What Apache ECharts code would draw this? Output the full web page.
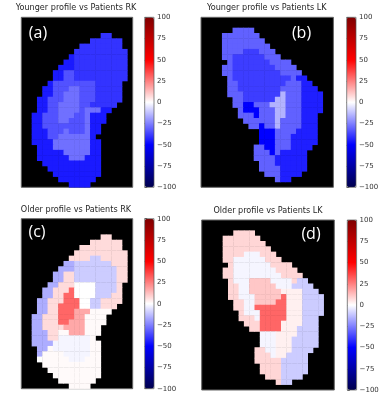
<!DOCTYPE html>
<html><head><meta charset="utf-8">
<style>html,body{margin:0;padding:0;background:#fff}#c{width:386px;height:400px}</style>
<script src="https://cdn.jsdelivr.net/npm/echarts@6/dist/echarts.min.js"></script>
</head><body><div id="c"></div>
<script>
var titles = ['Younger profile vs Patients RK','Younger profile vs Patients LK','Older profile vs Patients RK','Older profile vs Patients LK'];
var tags = ['(a)','(b)','(c)','(d)'];
var ticks = [-100,-75,-50,-25,0,25,50,75,100];
var levelsA = {A:-45,B:-40,C:-34,D:-28};
var levelsB = {A:-44,S:-50,M:-38,L:-31,W:-15};
var levelsC = {P:7,U:-16,V:-10,R:30,Q:17,N:1,Z:-2,O:0};
var levelsD = {P:8,Z:-2,V:-10,R:30,T:11,N:3};
// each row: runs "first-last Level"
var rowsA = ['','','','15-16B','13-18B','11-18B','10-19B','9-9A 10-19B','8-9A 10-19B','7-9A 10-19B','6-7A 8-9C 10-19B','6-7A 8-9C 10-19B',
'5-5A 6-13C 14-18B','4-5A 6-8C 9-10D 11-13C 14-18B','4-5A 6-7C 8-10D 11-13C 14-18B','3-4A 5-7C 8-10D 11-13C 14-18B','3-4A 5-6C 7-10D 11-12C 13-17B',
'3-4A 5-6C 7-10D 11-11C 12-14D 15-16A','2-3A 4-6C 7-9D 10-11C 12-12D 13-15A','2-3A 4-6C 7-8D 9-11C 12-12D 13-15A','2-3A 4-11C 12-12D 13-14A','2-4A 5-7C 8-8D 9-11C 12-12D 13-14A',
'2-4A 5-6C 7-12D 13-13A','2-5A 6-12D 13-14A','3-5A 6-12D 13-14A','3-7A 8-12D 13-14A','3-8A 9-11D 12-14A','4-14A','5-14A','6-14A','7-13A','9-12A'];
var rowsB = ['','','6-9L','4-10L','4-11L','4-12L','4-7L 8-10M 11-13L','4-5L 6-11M 12-14L','5-5L 6-12M 13-16L','4-5L 6-13M 14-17L','4-5L 6-14M 15-18L','5-5L 6-16M 17-17L 18-19A',
'5-6L 7-15M 16-18L 19-20A','5-6L 7-14M 15-18L 19-21A','5-7L 8-14M 15-15W 16-18L 19-22A','6-7L 8-13M 14-15W 16-18L 19-22A','6-7L 8-9S 10-12L 13-15W 16-18L 19-22A',
'7-7L 8-10S 11-13L 14-15W 16-18L 19-22A','7-9L 10-10S 11-13L 14-15W 16-18L 19-21A','8-13L 14-14W 15-18L 19-21A','9-10L 11-11S 12-13L 14-14W 15-18L 19-21A',
'11-13S 14-17L 18-21A','11-13S 14-16L 17-21A','11-13S 14-16L 17-21A','10-11L 12-13S 14-16L 17-20A','10-12L 13-13S 14-14L 15-19A','10-13L 14-19A','11-13L 14-19A','11-14L 15-19A','12-14L 15-18A','14-14L 15-16A',''];
var rowsC = ['','','','15-16P','13-18P','11-18P','10-19P','9-12P 13-14V 15-19P','8-9U 10-16V 17-19P','7-9U 10-17V 18-19P','6-7U 8-9P 10-17V 18-19P','6-7U 8-9P 10-17V 18-19P',
'5-6U 7-9P 10-13O 14-17V 18-18P','4-5U 6-8P 9-9R 10-13O 14-17V 18-18P','4-5U 6-7P 8-9R 10-13O 14-16V 17-18P','3-4U 5-7P 8-10R 11-12O 13-14V 15-18P','3-4U 5-6P 7-10R 11-12O 13-14V 15-17P',
'3-4U 5-6P 7-9R 10-12Q 13-16N','2-3U 4-6P 7-9R 10-11Q 12-15N','2-3U 4-6P 7-8R 9-11Q 12-15N','2-3U 4-7P 8-11Q 12-14N','2-4U 5-6P 7-8N 9-11Q 12-14N',
'2-4U 5-6P 7-12Z 13-13N','2-5U 6-12Z 13-14N','3-4U 5-5N 6-12Z 13-14N','3-3U 4-7N 8-12Z 13-14N','3-3O 4-8N 9-11Z 12-14N','4-14N','5-14N','6-14N','7-13N','9-12N'];
var rowsD = ['','','6-9P','4-10P','4-11P','4-12P','4-7P 8-10Z 11-13P','4-5P 6-11Z 12-14P','5-5P 6-12Z 13-16P','4-5P 6-13Z 14-17P','4-5P 6-14Z 15-18P','5-5P 6-8Z 9-12T 13-16Z 17-17P 18-19V',
'5-6P 7-8Z 9-13T 14-16Z 17-20V','5-6P 7-8Z 9-14T 15-18N 19-21V','5-6P 7-9Z 10-14T 15-15R 16-18N 19-22V','6-7P 8-9Z 10-13T 14-15R 16-18N 19-22V','6-7P 8-9Z 10-15R 16-18N 19-22V',
'7-7P 8-10Z 11-15R 16-18N 19-22V','7-9P 10-10Z 11-15R 16-18N 19-21V','8-10P 11-14R 15-18N 19-21V','9-10P 11-14R 15-17N 18-21V',
'11-13Z 14-17N 18-21V','11-13Z 14-16N 17-21V','11-13Z 14-16N 17-21V','10-11P 12-13Z 14-16N 17-20V','10-12P 13-13Z 14-15N 16-19V','10-14P 15-19V','11-14P 15-19V','11-14P 15-19V','12-14P 15-18V','14-14P 15-16V',''];

var seismic = ['#00004d','#0000ff','#ffffff','#ff0000','#800000'];
function cells(rows, levels){
  var out=[];
  rows.forEach(function(row,r){
    row.split(' ').filter(Boolean).forEach(function(run){
      var m=run.match(/^(\d+)-(\d+)([A-Z])$/);
      for(var c=+m[1];c<=+m[2];c++) out.push([c,r,levels[m[3]]]);
    });
  });
  return out;
}
function idx(n){var a=[];for(var i=0;i<n;i++)a.push(i);return a;}
var panels=[
 {rows:rowsA,levels:levelsA,cols:21,box:[21.3,17.3,111.4,170],bar:[144.7,17.3],tx:76,ty:4,lx:38,ly:25},
 {rows:rowsB,levels:levelsB,cols:25,box:[201,17.3,132.4,170],bar:[346.7,17.3],tx:266.7,ty:4,lx:301.5,ly:25},
 {rows:rowsC,levels:levelsC,cols:21,box:[21.3,218.7,111.4,170],bar:[144.7,218.7],tx:76,ty:205.5,lx:37,ly:224},
 {rows:rowsD,levels:levelsD,cols:25,box:[201.7,220,132.6,170],bar:[347.3,220],tx:268,ty:207,lx:311,ly:226}
];
var opt={animation:false,backgroundColor:'#fff',title:[],grid:[],xAxis:[],yAxis:[],series:[],visualMap:[]};
panels.forEach(function(p,i){
  opt.grid.push({left:p.box[0],top:p.box[1],width:p.box[2],height:p.box[3],show:true,backgroundColor:'#000',borderColor:'#666',borderWidth:1,containLabel:false});
  opt.xAxis.push({type:'category',gridIndex:i,data:idx(p.cols),show:false});
  opt.yAxis.push({type:'category',gridIndex:i,data:idx(32),inverse:true,show:false});
  opt.series.push({type:'heatmap',xAxisIndex:i,yAxisIndex:i,data:cells(p.rows,p.levels),progressive:0,itemStyle:{borderWidth:0},emphasis:{disabled:true}});
  opt.visualMap.push({type:'continuous',seriesIndex:i,min:-100,max:100,calculable:false,realtime:false,hoverLink:false,left:p.bar[0],top:p.bar[1],itemWidth:9.3,itemHeight:170,padding:0,text:null,showLabel:false,inRange:{color:seismic},textStyle:{fontSize:0}});
  opt.title.push({text:titles[i],left:p.tx,top:p.ty,textAlign:'center',padding:0,textStyle:{fontFamily:'DejaVu Sans',fontSize:8.1,fontWeight:'normal',color:'#262626'}});
  opt.title.push({text:tags[i],left:p.lx,top:p.ly,textAlign:'center',padding:0,textStyle:{fontFamily:'Open Sans',fontSize:16,fontWeight:'normal',color:'#fff'},z:20});
});
panels.forEach(function(p,i){
  var g=i+4;
  opt.grid.push({left:p.bar[0],top:p.bar[1],width:9.3,height:170,show:true,backgroundColor:'transparent',borderColor:'#555',borderWidth:0.7,z:10,containLabel:false});
  opt.xAxis.push({type:'value',gridIndex:g,min:0,max:1,show:false});
  opt.yAxis.push({type:'value',gridIndex:g,min:ticks[0],max:ticks[ticks.length-1],interval:25,position:'right',splitLine:{show:false},
    axisLine:{show:false},axisTick:{show:true,length:2.5,lineStyle:{color:'#333',width:0.7}},
    axisLabel:{show:true,fontFamily:'DejaVu Sans',fontSize:7,color:'#333',margin:3,formatter:function(v){return String(v).replace('-','\u2212');}}});
});
var ch=echarts.init(document.getElementById('c'),null,{renderer:'canvas'});
ch.setOption(opt);
</script></body></html>
